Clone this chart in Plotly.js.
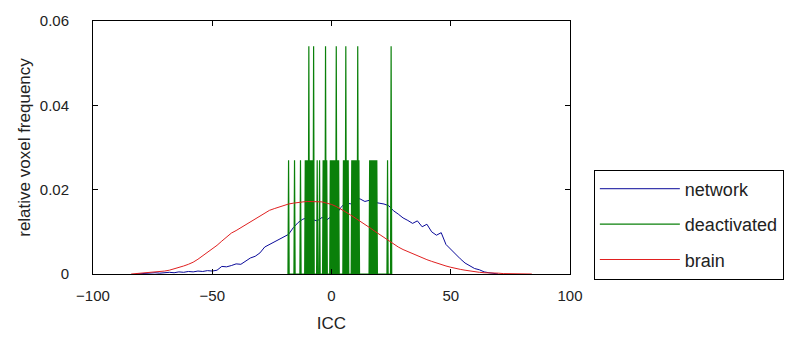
<!DOCTYPE html>
<html>
<head>
<meta charset="utf-8">
<script src="https://cdn.plot.ly/plotly-3.0.1.min.js"></script>
<style>html,body{margin:0;padding:0;background:#fff;}#chart{width:791px;height:337px;}</style>
</head>
<body>
<div id="chart"></div>
<script>
// ICC bin positions and relative frequencies
const networkIcc = [-82,-80,-78,-76,-74,-72,-70,-68,-66,-64,-62,-60,-58,-56,-54,-52,-50,-48,-46,-44,-42,-40,-38,-36,-34,-32,-30,-28,-26,-24,-22,-20,-18,-16,-14,-12,-10,-8,-6,-4,-2,0,2,4,6,8,10,12,14,16,18,20,22,24,26,28,30,32,34,36,38,40,42,44,46,48,50,52,54,56,58,60,62,64,66,68,70];
const networkFreq = [0.0000,0.0001,0.0001,0.0002,0.0003,0.0002,0.0003,0.0004,0.0003,0.0005,0.0004,0.0006,0.0005,0.0007,0.0006,0.0008,0.0007,0.0009,0.0018,0.0017,0.0020,0.0024,0.0023,0.0030,0.0038,0.0042,0.0050,0.0064,0.0070,0.0076,0.0082,0.0090,0.0094,0.0110,0.0122,0.0130,0.0134,0.0129,0.0126,0.0134,0.0128,0.0137,0.0142,0.0158,0.0170,0.0166,0.0180,0.0178,0.0172,0.0175,0.0170,0.0168,0.0166,0.0162,0.0150,0.0142,0.0133,0.0127,0.0120,0.0126,0.0112,0.0118,0.0100,0.0092,0.0098,0.0070,0.0058,0.0048,0.0036,0.0026,0.0020,0.0013,0.0010,0.0005,0.0003,0.0001,0.0000];

const brainIcc = [-84,-82,-80,-78,-76,-74,-72,-70,-68,-66,-64,-62,-60,-58,-56,-54,-52,-50,-48,-46,-44,-42,-40,-38,-36,-34,-32,-30,-28,-26,-24,-22,-20,-18,-16,-14,-12,-10,-8,-6,-4,-2,0,2,4,6,8,10,12,14,16,18,20,22,24,26,28,30,32,34,36,38,40,42,44,46,48,50,52,54,56,58,60,62,64,66,68,70,72,74,76,78,80,82,84];
const brainFreq = [0.0000,0.0001,0.0002,0.0002,0.0003,0.0004,0.0005,0.0007,0.0009,0.0012,0.0015,0.0019,0.0023,0.0028,0.0035,0.0043,0.0051,0.0060,0.0068,0.0078,0.0088,0.0097,0.0103,0.0110,0.0117,0.0124,0.0131,0.0138,0.0145,0.0151,0.0155,0.0159,0.0163,0.0166,0.0168,0.0170,0.0171,0.0172,0.0172,0.0172,0.0171,0.0168,0.0165,0.0160,0.0154,0.0147,0.0140,0.0133,0.0126,0.0118,0.0110,0.0102,0.0094,0.0086,0.0078,0.0071,0.0064,0.0058,0.0053,0.0048,0.0043,0.0038,0.0034,0.0030,0.0026,0.0022,0.0019,0.0016,0.0013,0.0011,0.0009,0.0007,0.0005,0.0004,0.0003,0.0003,0.0002,0.0002,0.0001,0.0001,0.0001,0.0001,0.0001,0.0000,0.0000];

// deactivated: nonzero histogram bins (bin width 0.5 ICC)
const deactBinWidth = 0.5;
const deactIcc = [-18,-15.5,-13,-11,-10.5,-10,-9.5,-9,-8.5,-8,-7.5,-6,-5,-3.5,-3,-2.5,-2,-0.5,0,0.5,1,1.5,2,2.5,3,5,5.5,6,6.5,7,8.5,9,9.5,10,10.5,11,11.5,16,16.5,17,17.5,18,18.5,19,23.5,25];
const deactFreq = [0.027,0.027,0.027,0.027,0.027,0.027,0.054,0.027,0.027,0.027,0.054,0.027,0.027,0.027,0.027,0.054,0.027,0.027,0.027,0.027,0.027,0.027,0.054,0.027,0.027,0.027,0.027,0.054,0.027,0.027,0.027,0.027,0.027,0.027,0.027,0.054,0.027,0.027,0.027,0.027,0.027,0.027,0.027,0.027,0.027,0.054];

const xTicks = [-100,-50,0,50,100];
const yTicks = [0,0.02,0.04,0.06];
const seriesNames = ['network','deactivated','brain'];

// build deactivated histogram polyline (spikes returning to zero between bins)
const dx = [], dy = [];
deactIcc.forEach((c,i)=>{
  dx.push(c - deactBinWidth/2, c, c + deactBinWidth/2);
  dy.push(0, deactFreq[i], 0);
});

const FONT = 'Liberation Sans, Arial, sans-serif';

const traces = [
  {x: networkIcc, y: networkFreq, name: seriesNames[0], type:'scatter', mode:'lines',
   line:{color:'#0a0a9a', width:1}, legendgroup:'a'},
  {x: dx, y: dy, name: seriesNames[1], type:'scatter', mode:'lines',
   line:{color:'#0a800a', width:1.2}, legendgroup:'b'},
  {x: brainIcc, y: brainFreq, name: seriesNames[2], type:'scatter', mode:'lines',
   line:{color:'#e02020', width:1}, legendgroup:'c'}
];

const layout = {
  width: 791, height: 337,
  margin: {l:93, r:221, t:21, b:63, autoexpand:false},
  paper_bgcolor:'#fff', plot_bgcolor:'#fff',
  showlegend: true,
  font: {family: FONT, color:'#222', size:14},
  xaxis: {
    range:[-100,100], tickvals: xTicks, ticks:'inside', ticklen:5, tickcolor:'#000',
    showline:true, linecolor:'#000', linewidth:1, mirror:'ticks', showgrid:false, zeroline:false,
    tickfont:{size:15, family:FONT, color:'#222'}, ticklabelstandoff: 8,
    title:{text:'ICC', font:{size:17, family:FONT, color:'#222'}, standoff:14},
    automargin:false
  },
  yaxis: {
    range:[0,0.06], tickvals: yTicks, ticks:'inside', ticklen:5, tickcolor:'#000',
    showline:true, linecolor:'#000', linewidth:1, mirror:'ticks', showgrid:false, zeroline:false,
    tickfont:{size:15, family:FONT, color:'#222'}, ticklabelstandoff: 20,
    title:{text:'relative voxel frequency', font:{size:17, family:FONT, color:'#222'}, standoff:4},
    automargin:false
  },
  legend: {
    x:1.05, xanchor:'left', y:0.413, yanchor:'top',
    bgcolor:'#fff', bordercolor:'#000', borderwidth:1,
    font:{size:18, family:FONT, color:'#222'},
    traceorder:'grouped', tracegroupgap:9, itemwidth:80
  }
};

Plotly.newPlot('chart', traces, layout, {staticPlot:true, displayModeBar:false});
</script>
</body>
</html>
